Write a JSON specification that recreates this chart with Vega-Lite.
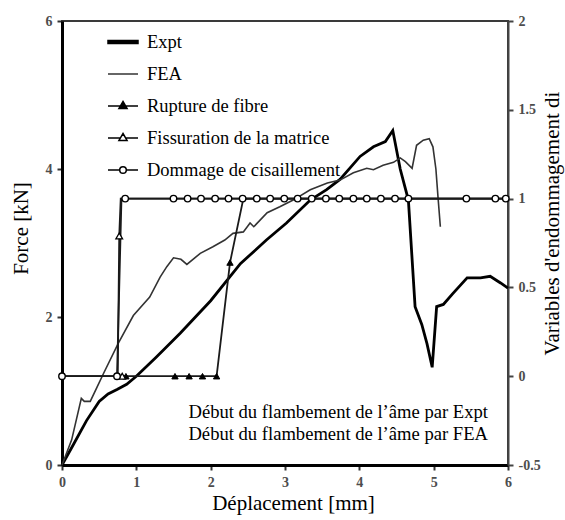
{
  "$schema": "https://vega.github.io/schema/vega-lite/v6.json",
  "autosize": {"type": "none"},
  "width": 446,
  "height": 444,
  "padding": {"left": 62, "top": 21, "right": 57, "bottom": 55},
  "background": "white",
  "config": {
    "font": "Liberation Serif",
    "view": {"stroke": "#3a3a3a", "strokeWidth": 2},
    "axis": {"grid": false}
  },
  "datasets": {
    "expt": [
      {"x": 0, "force": 0}, {"x": 0.15, "force": 0.27}, {"x": 0.33, "force": 0.6}, {"x": 0.5, "force": 0.86},
      {"x": 0.62, "force": 0.96}, {"x": 0.74, "force": 1.02}, {"x": 0.87, "force": 1.09}, {"x": 1.0, "force": 1.2}, {"x": 1.27, "force": 1.46}, {"x": 1.59, "force": 1.78},
      {"x": 2.0, "force": 2.22}, {"x": 2.4, "force": 2.72}, {"x": 2.75, "force": 3.04}, {"x": 3.02, "force": 3.27},
      {"x": 3.34, "force": 3.58}, {"x": 3.56, "force": 3.72}, {"x": 3.74, "force": 3.86}, {"x": 4.01, "force": 4.17},
      {"x": 4.19, "force": 4.3}, {"x": 4.35, "force": 4.37}, {"x": 4.45, "force": 4.52}, {"x": 4.55, "force": 4.0},
      {"x": 4.66, "force": 3.58}, {"x": 4.75, "force": 2.14}, {"x": 4.84, "force": 1.9}, {"x": 4.91, "force": 1.64},
      {"x": 4.98, "force": 1.32}, {"x": 5.04, "force": 2.14}, {"x": 5.13, "force": 2.17}, {"x": 5.26, "force": 2.32},
      {"x": 5.45, "force": 2.53}, {"x": 5.63, "force": 2.53}, {"x": 5.76, "force": 2.55}, {"x": 5.9, "force": 2.46},
      {"x": 6.0, "force": 2.39}
    ],
    "fea": [
      {"x": 0, "force": 0}, {"x": 0.13, "force": 0.34}, {"x": 0.26, "force": 0.9}, {"x": 0.3, "force": 0.86},
      {"x": 0.38, "force": 0.86}, {"x": 0.47, "force": 1.05}, {"x": 0.56, "force": 1.24}, {"x": 0.76, "force": 1.65},
      {"x": 0.96, "force": 2.02}, {"x": 1.18, "force": 2.27}, {"x": 1.32, "force": 2.54}, {"x": 1.41, "force": 2.68},
      {"x": 1.5, "force": 2.8}, {"x": 1.6, "force": 2.78}, {"x": 1.68, "force": 2.71}, {"x": 1.86, "force": 2.86},
      {"x": 2.03, "force": 2.95}, {"x": 2.19, "force": 3.04}, {"x": 2.3, "force": 3.13}, {"x": 2.44, "force": 3.15},
      {"x": 2.53, "force": 3.27}, {"x": 2.58, "force": 3.22}, {"x": 2.76, "force": 3.41}, {"x": 2.93, "force": 3.49},
      {"x": 3.11, "force": 3.58}, {"x": 3.34, "force": 3.72}, {"x": 3.57, "force": 3.81}, {"x": 3.74, "force": 3.85},
      {"x": 3.92, "force": 3.95}, {"x": 4.1, "force": 4.01}, {"x": 4.19, "force": 3.99}, {"x": 4.32, "force": 4.05},
      {"x": 4.46, "force": 4.09}, {"x": 4.55, "force": 4.15}, {"x": 4.62, "force": 4.1}, {"x": 4.71, "force": 4.01},
      {"x": 4.77, "force": 4.32}, {"x": 4.86, "force": 4.39}, {"x": 4.94, "force": 4.41}, {"x": 4.99, "force": 4.3},
      {"x": 5.03, "force": 4.0}, {"x": 5.06, "force": 3.6}, {"x": 5.09, "force": 3.22}
    ],
    "damage": [
      {"series": "Rupture de fibre", "x": 0.8, "d": 0}, {"series": "Rupture de fibre", "x": 2.08, "d": 0},
      {"series": "Rupture de fibre", "x": 2.26, "d": 0.64}, {"series": "Rupture de fibre", "x": 2.44, "d": 1},
      {"series": "Rupture de fibre", "x": 6, "d": 1},
      {"series": "Fissuration de la matrice", "x": 0, "d": 0}, {"series": "Fissuration de la matrice", "x": 0.75, "d": 0},
      {"series": "Fissuration de la matrice", "x": 0.77, "d": 0.79}, {"series": "Fissuration de la matrice", "x": 0.79, "d": 1},
      {"series": "Fissuration de la matrice", "x": 6, "d": 1},
      {"series": "Dommage de cisaillement", "x": 0, "d": 0}, {"series": "Dommage de cisaillement", "x": 0.74, "d": 0},
      {"series": "Dommage de cisaillement", "x": 0.8, "d": 1}, {"series": "Dommage de cisaillement", "x": 6, "d": 1}
    ],
    "markers": [
      {"series": "Rupture de fibre", "x": 0.86, "d": 0}, {"series": "Rupture de fibre", "x": 1.52, "d": 0},
      {"series": "Rupture de fibre", "x": 1.71, "d": 0}, {"series": "Rupture de fibre", "x": 1.89, "d": 0},
      {"series": "Rupture de fibre", "x": 2.08, "d": 0}, {"series": "Rupture de fibre", "x": 2.26, "d": 0.64},
      {"series": "Fissuration de la matrice", "x": 0.81, "d": 0}, {"series": "Fissuration de la matrice", "x": 0.77, "d": 0.79},
      {"series": "Dommage de cisaillement", "x": 0, "d": 0}, {"series": "Dommage de cisaillement", "x": 0.74, "d": 0},
      {"series": "Dommage de cisaillement", "x": 0.85, "d": 1}, {"series": "Dommage de cisaillement", "x": 1.5, "d": 1},
      {"series": "Dommage de cisaillement", "x": 1.69, "d": 1}, {"series": "Dommage de cisaillement", "x": 1.87, "d": 1},
      {"series": "Dommage de cisaillement", "x": 2.06, "d": 1}, {"series": "Dommage de cisaillement", "x": 2.24, "d": 1},
      {"series": "Dommage de cisaillement", "x": 2.43, "d": 1}, {"series": "Dommage de cisaillement", "x": 2.62, "d": 1},
      {"series": "Dommage de cisaillement", "x": 2.8, "d": 1}, {"series": "Dommage de cisaillement", "x": 2.99, "d": 1},
      {"series": "Dommage de cisaillement", "x": 3.17, "d": 1}, {"series": "Dommage de cisaillement", "x": 3.36, "d": 1},
      {"series": "Dommage de cisaillement", "x": 3.55, "d": 1}, {"series": "Dommage de cisaillement", "x": 3.73, "d": 1},
      {"series": "Dommage de cisaillement", "x": 3.92, "d": 1}, {"series": "Dommage de cisaillement", "x": 4.1, "d": 1},
      {"series": "Dommage de cisaillement", "x": 4.29, "d": 1}, {"series": "Dommage de cisaillement", "x": 4.48, "d": 1},
      {"series": "Dommage de cisaillement", "x": 4.66, "d": 1}, {"series": "Dommage de cisaillement", "x": 5.44, "d": 1},
      {"series": "Dommage de cisaillement", "x": 5.83, "d": 1}, {"series": "Dommage de cisaillement", "x": 5.97, "d": 1}
    ],
    "series": [
      {"series": "Expt"}, {"series": "FEA"}, {"series": "Rupture de fibre"},
      {"series": "Fissuration de la matrice"}, {"series": "Dommage de cisaillement"}
    ],
    "notes": [
      {"note": "Début du flambement de l’âme par Expt", "xpos": 5.73, "kn": 0.72},
      {"note": "Début du flambement de l’âme par FEA", "xpos": 5.73, "kn": 0.42}
    ]
  },
  "encoding": {
    "x": {
      "field": "x", "type": "quantitative",
      "scale": {"domain": [0, 6], "nice": false, "zero": false},
      "axis": {
        "values": [0, 1, 2, 3, 4, 5, 6],
        "title": "Déplacement [mm]",
        "domainColor": "black", "domainWidth": 3,
        "tickColor": "#333", "tickWidth": 2, "tickSize": 5,
        "labelFont": "Liberation Serif", "labelFontWeight": "bold", "labelFontSize": 14,
        "labelColor": "#4d4d4d", "labelPadding": 5, "labelFlush": false,
        "titleFont": "Liberation Serif", "titleFontSize": 21, "titleFontWeight": "normal",
        "titleColor": "black", "titleX": 231, "titleY": 38, "titleBaseline": "middle", "titleAlign": "center"
      }
    }
  },
  "layer": [
    {
      "encoding": {
        "y": {
          "field": "force", "type": "quantitative",
          "scale": {"domain": [0, 6], "nice": false},
          "axis": {
            "orient": "left", "values": [0, 2, 4, 6], "title": "Force [kN]",
            "domainColor": "black", "domainWidth": 3,
            "tickColor": "#333", "tickWidth": 2, "tickSize": 5,
            "labelFont": "Liberation Serif", "labelFontWeight": "bold", "labelFontSize": 14,
            "labelColor": "#4d4d4d", "labelPadding": 5, "labelFlush": false,
            "titleFont": "Liberation Serif", "titleFontSize": 21, "titleFontWeight": "normal",
            "titleColor": "black", "titleAngle": 270, "titleX": -41, "titleY": 207,
            "titleBaseline": "middle", "titleAlign": "center"
          }
        }
      },
      "layer": [
        {"data": {"name": "expt"}, "mark": {"type": "line", "color": "black", "strokeWidth": 2.8}},
        {"data": {"name": "fea"}, "mark": {"type": "line", "color": "#333333", "strokeWidth": 1.6}},
        {
          "data": {"name": "notes"},
          "mark": {"type": "text", "align": "right", "baseline": "middle", "font": "Liberation Serif", "fontSize": 18.6, "color": "black"},
          "encoding": {
            "x": {"field": "xpos", "type": "quantitative"},
            "y": {"field": "kn", "type": "quantitative"},
            "text": {"field": "note", "type": "nominal"}
          }
        }
      ]
    },
    {
      "encoding": {
        "y": {
          "field": "d", "type": "quantitative",
          "scale": {"domain": [-0.5, 2], "nice": false, "zero": false},
          "axis": {
            "orient": "right", "values": [-0.5, 0, 0.5, 1, 1.5, 2],
            "labelExpr": "toString(datum.value)",
            "title": "Variables d'endommagement di",
            "domainColor": "#444", "domainWidth": 2,
            "tickColor": "#444", "tickWidth": 2, "tickSize": 5,
            "labelFont": "Liberation Serif", "labelFontWeight": "bold", "labelFontSize": 14,
            "labelColor": "#4d4d4d", "labelPadding": 5, "labelFlush": false,
            "titleFont": "Liberation Serif", "titleFontSize": 21, "titleFontWeight": "normal",
            "titleColor": "black", "titleAngle": 270, "titleX": 44, "titleY": 202,
            "titleBaseline": "middle", "titleAlign": "center"
          }
        }
      },
      "layer": [
        {
          "data": {"name": "damage"},
          "mark": {"type": "line", "color": "#1a1a1a", "strokeWidth": 1.8},
          "encoding": {"detail": {"field": "series", "type": "nominal"}}
        },
        {
          "data": {"name": "markers"},
          "transform": [{"filter": "datum.series == 'Rupture de fibre'"}],
          "mark": {"type": "point", "shape": "triangle-up", "filled": true, "fill": "black", "stroke": "black", "strokeWidth": 1, "size": 40, "opacity": 1}
        },
        {
          "data": {"name": "markers"},
          "transform": [{"filter": "datum.series == 'Fissuration de la matrice'"}],
          "mark": {"type": "point", "shape": "triangle-up", "filled": true, "fill": "white", "stroke": "black", "strokeWidth": 1.3, "size": 45, "opacity": 1}
        },
        {
          "data": {"name": "markers"},
          "transform": [{"filter": "datum.series == 'Dommage de cisaillement'"}],
          "mark": {"type": "point", "shape": "circle", "filled": true, "fill": "white", "stroke": "black", "strokeWidth": 1.4, "size": 42, "opacity": 1}
        }
      ]
    },
    {
      "data": {"name": "series"},
      "mark": {"type": "point", "filled": true, "opacity": 0, "size": 900, "strokeWidth": 1.5},
      "encoding": {
        "x": {"datum": 0, "type": "quantitative"},
        "shape": {
          "field": "series", "type": "nominal",
          "scale": {
            "domain": ["Expt", "FEA", "Rupture de fibre", "Fissuration de la matrice", "Dommage de cisaillement"],
            "range": [
              "M-1,-0.1H1V0.1H-1Z",
              "M-1,0H1",
              "M-1,0H1M0,-0.3L0.27,0.16L-0.27,0.16Z",
              "M-1,0H-0.18M0.18,0H1M0,-0.3L0.27,0.16L-0.27,0.16Z",
              "M-1,0H-0.22M0.22,0H1M0.22,0A0.22,0.22,0,1,1,-0.22,0A0.22,0.22,0,1,1,0.22,0Z"
            ]
          },
          "legend": {
            "orient": "none", "legendX": 45, "legendY": 5, "title": null, "padding": 0,
            "symbolSize": 900, "symbolStrokeWidth": 1.5, "symbolOpacity": 1,
            "labelFont": "Liberation Serif", "labelFontSize": 18.5, "labelColor": "black",
            "labelOffset": 8, "labelLimit": 400, "rowPadding": 6
          }
        },
        "fill": {
          "field": "series", "type": "nominal",
          "scale": {
            "domain": ["Expt", "FEA", "Rupture de fibre", "Fissuration de la matrice", "Dommage de cisaillement"],
            "range": ["black", "black", "black", "white", "white"]
          },
          "legend": {
            "orient": "none", "legendX": 45, "legendY": 5, "title": null, "padding": 0,
            "symbolSize": 900, "symbolStrokeWidth": 1.5, "symbolOpacity": 1,
            "labelFont": "Liberation Serif", "labelFontSize": 18.5, "labelColor": "black",
            "labelOffset": 8, "labelLimit": 400, "rowPadding": 6
          }
        },
        "stroke": {
          "field": "series", "type": "nominal",
          "scale": {
            "domain": ["Expt", "FEA", "Rupture de fibre", "Fissuration de la matrice", "Dommage de cisaillement"],
            "range": ["black", "#333333", "black", "black", "black"]
          },
          "legend": {
            "orient": "none", "legendX": 45, "legendY": 5, "title": null, "padding": 0,
            "symbolSize": 900, "symbolStrokeWidth": 1.5, "symbolOpacity": 1,
            "labelFont": "Liberation Serif", "labelFontSize": 18.5, "labelColor": "black",
            "labelOffset": 8, "labelLimit": 400, "rowPadding": 6
          }
        }
      }
    }
  ],
  "resolve": {"scale": {"y": "independent"}, "axis": {"y": "independent"}}
}
